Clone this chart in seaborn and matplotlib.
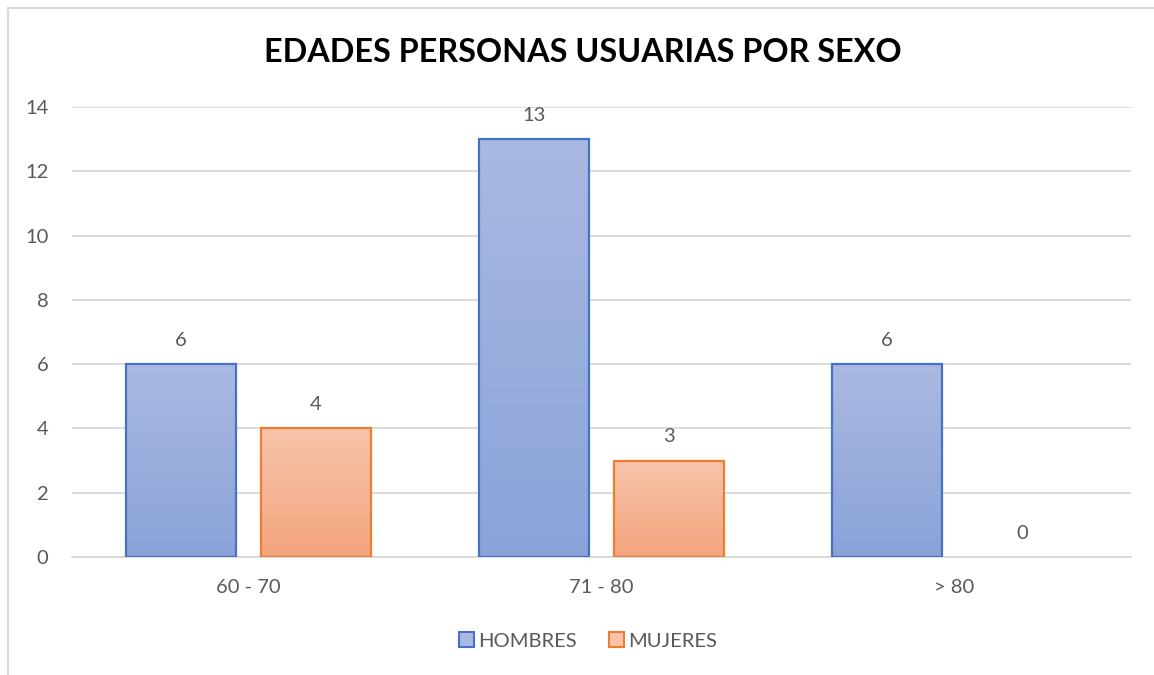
import numpy as np
import pandas as pd
import matplotlib
matplotlib.use("Agg")
import matplotlib.pyplot as plt
import seaborn as sns
from matplotlib.lines import Line2D
from matplotlib.patches import Patch
from matplotlib.colors import LinearSegmentedColormap

# Data
age_groups = ["60 - 70", "71 - 80", "> 80"]
series_names = ["HOMBRES", "MUJERES"]
hombres = [6, 13, 6]
mujeres = [4, 3, 0]
y_ticks = [0, 2, 4, 6, 8, 10, 12, 14]

df = pd.DataFrame({
    "grupo": age_groups * 2,
    "sexo": [series_names[0]] * len(age_groups) + [series_names[1]] * len(age_groups),
    "valor": hombres + mujeres,
})

# Styling
edge_colors = ["#4472C4", "#ED7D31"]
grad_top = ["#AAB9E1", "#F7C4AB"]
grad_bottom = ["#8AA3D9", "#F4A47D"]
text_gray = "#595959"
grid_gray = "#D9D9D9"

sns.set_theme(style="white")
plt.rcParams["font.family"] = ["Lato", "DejaVu Sans"]

W, H = 1154, 675
fig = plt.figure(figsize=(W / 100, H / 100), dpi=100)
ax = fig.add_axes([72 / W, 1 - 557 / H, (1131 - 72) / W, (557 - 107) / H])

sns.barplot(
    data=df, x="grupo", y="valor", hue="sexo",
    order=age_groups, hue_order=series_names,
    palette=edge_colors, width=0.765, gap=0.192,
    errorbar=None, legend=False, ax=ax,
)

# Vertical gradient fill clipped to each bar
for i, container in enumerate(ax.containers):
    cmap = LinearSegmentedColormap.from_list(
        f"g{i}", [grad_bottom[i], grad_top[i]])
    for bar in container:
        x, w, h = bar.get_x(), bar.get_width(), bar.get_height()
        bar.set_facecolor("none")
        if h <= 0:
            bar.set_edgecolor("none")
            continue
        bar.set_edgecolor(edge_colors[i])
        bar.set_linewidth(1.6)
        bar.set_zorder(3)
        grad = np.linspace(0, 1, 256).reshape(-1, 1)
        img = ax.imshow(grad, extent=[x, x + w, 0, h], origin="lower",
                        aspect="auto", cmap=cmap, zorder=2.5)
        img.set_clip_path(bar)
    ax.bar_label(container, padding=11, fontsize=14.5, color=text_gray)

ax.set_xlim(-0.5, len(age_groups) - 0.5)
ax.set_ylim(0, 14)
ax.set_yticks(y_ticks)
ax.set_xlabel("")
ax.set_ylabel("")
ax.grid(axis="y", color=grid_gray, linewidth=1.3)
ax.set_axisbelow(True)
for side in ["top", "right", "left"]:
    ax.spines[side].set_visible(False)
ax.spines["bottom"].set_color(grid_gray)
ax.spines["bottom"].set_linewidth(1.3)
ax.tick_params(axis="both", length=0, labelsize=14.5, labelcolor=text_gray)
ax.tick_params(axis="y", pad=17)
ax.tick_params(axis="x", pad=16)

# Title
fig.text(583 / W, 1 - 52 / H, "EDADES PERSONAS USUARIAS POR SEXO",
         ha="center", va="center", fontsize=23.3, fontweight="bold", color="black")

# Legend
handles = [Patch(facecolor=grad_top[i], edgecolor=edge_colors[i], linewidth=1.5,
                 label=series_names[i]) for i in range(2)]
fig.legend(handles=handles, loc="center", bbox_to_anchor=(588 / W, 1 - 641 / H),
           ncol=2, frameon=False, fontsize=14.5, labelcolor=text_gray,
           handlelength=0.75, handleheight=0.75, handletextpad=0.2,
           columnspacing=1.6)

# Chart frame (top and left edges)
fig.add_artist(Line2D([8 / W, 1], [1 - 8 / H, 1 - 8 / H], color=grid_gray,
                      linewidth=1.5, transform=fig.transFigure))
fig.add_artist(Line2D([8 / W, 8 / W], [0, 1 - 8 / H], color=grid_gray,
                      linewidth=1.5, transform=fig.transFigure))

fig.savefig("out.png", dpi=100, facecolor="white")
